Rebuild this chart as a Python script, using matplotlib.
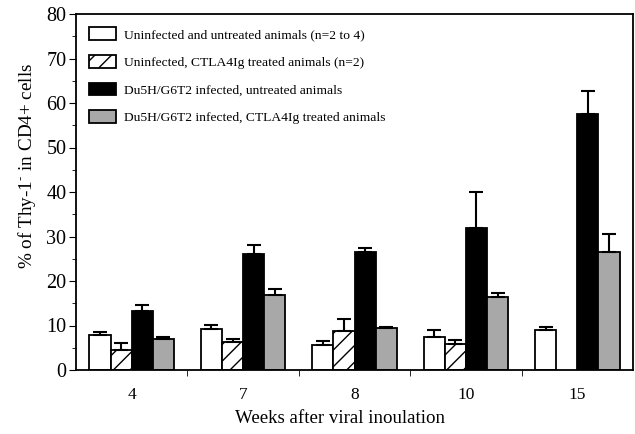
import matplotlib
matplotlib.use("Agg")
import matplotlib.pyplot as plt
import numpy as np

weeks = ["4", "7", "8", "10", "15"]
series_labels = [
    "Uninfected and untreated animals (n=2 to 4)",
    "Uninfected, CTLA4Ig treated animals (n=2)",
    "Du5H/G6T2 infected, untreated animals",
    "Du5H/G6T2 infected, CTLA4Ig treated animals",
]
uninf_untreated = [7.9, 9.2, 5.7, 7.5, 8.9]
uninf_untreated_err = [0.6, 1.0, 0.9, 1.4, 0.8]
uninf_ctla = [4.5, 6.2, 8.8, 5.8, np.nan]
uninf_ctla_err = [1.5, 0.7, 2.6, 0.9, 0.0]
inf_untreated = [13.3, 26.0, 26.5, 31.9, 57.5]
inf_untreated_err = [1.2, 2.1, 0.9, 8.1, 5.1]
inf_ctla = [6.9, 16.9, 9.5, 16.5, 26.5]
inf_ctla_err = [0.6, 1.2, 0.1, 0.8, 4.0]

plt.rcParams['font.family'] = ['Liberation Serif', 'DejaVu Serif']
plt.rcParams['mathtext.fontset'] = 'stix'
plt.rcParams['hatch.linewidth'] = 1.0

fig = plt.figure(figsize=(6.35, 4.34), dpi=100)
ax = fig.add_axes([76/635, 1 - 370/434, (633-76)/635, (370-14)/434])

x = np.arange(len(weeks))
w = 0.19
offsets = np.array([-1.5, -0.5, 0.5, 1.5]) * w
vals = [uninf_untreated, uninf_ctla, inf_untreated, inf_ctla]
errs = [uninf_untreated_err, uninf_ctla_err, inf_untreated_err, inf_ctla_err]
styles = [
    dict(facecolor='white', hatch=None),
    dict(facecolor='white', hatch='//'),
    dict(facecolor='black', hatch=None),
    dict(facecolor='#a8a8a8', hatch=None),
]
for v, e, off, st, lab in zip(vals, errs, offsets, styles, series_labels):
    v = np.array(v, dtype=float)
    e = np.array(e, dtype=float)
    mask = ~np.isnan(v)
    ax.bar(x[mask] + off, v[mask], width=w, edgecolor='black', linewidth=1.3,
           facecolor=st['facecolor'], hatch=st['hatch'], label=lab, zorder=2)
    ax.errorbar(x[mask] + off, v[mask], yerr=[np.zeros(mask.sum()), e[mask]],
                fmt='none', ecolor='black', elinewidth=1.5, capsize=5,
                capthick=1.5, zorder=3)

ax.set_xlim(-0.5, 4.5)
ax.set_ylim(0, 80)
ax.set_xticks(x)
ax.set_xticklabels(weeks, fontsize=12.5)
ax.set_xticks([0.5, 1.5, 2.5, 3.5], minor=True)
ax.tick_params(axis='x', which='major', length=0, pad=12)
ax.tick_params(axis='x', which='minor', length=4, direction='out')
ax.set_yticks(np.arange(0, 81, 10))
ax.set_yticks(np.arange(5, 80, 10), minor=True)
ax.tick_params(axis='y', which='major', length=5, labelsize=14.5, direction='out', pad=2)
ax.tick_params(axis='y', which='minor', length=3, direction='out')
for s in ax.spines.values():
    s.set_linewidth(1.3)

ax.set_xlabel("Weeks after viral inoulation", fontsize=13.6)
ax.xaxis.set_label_coords(0.474, -0.112)
ax.set_ylabel(r"% of Thy-1$^{\text{-}}$ in CD4+ cells", fontsize=13.8)
ax.yaxis.set_label_coords(-0.068, 0.573)

leg = ax.legend(loc='upper left', frameon=False, fontsize=9.7,
                handlelength=2.0, handleheight=1.1, labelspacing=1.0,
                handletextpad=0.6, borderaxespad=0.6, bbox_to_anchor=(0.0, 1.0))

fig.savefig("out.png", dpi=100)
